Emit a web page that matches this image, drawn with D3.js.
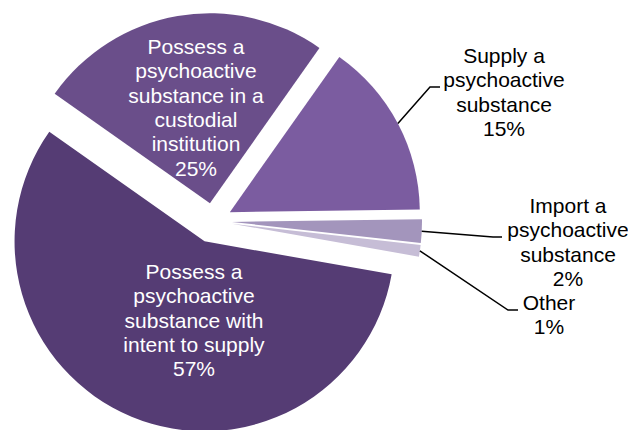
<!DOCTYPE html>
<html>
<head>
<meta charset="utf-8">
<script src="https://cdn.jsdelivr.net/npm/d3@7"></script>
<style>
  html, body { margin: 0; padding: 0; background: #ffffff; }
  svg { display: block; }
  text { font-family: "Liberation Sans", Arial, sans-serif; }
</style>
</head>
<body>
<svg id="chart" width="628" height="430"></svg>
<script>
// ---- data ----
const categories = [
  "Possess a psychoactive substance with intent to supply",
  "Possess a psychoactive substance in a custodial institution",
  "Supply a psychoactive substance",
  "Import a psychoactive substance",
  "Other"
];
const values = [57, 25, 15, 2, 1];
const labelLines = [
  ["Possess a", "psychoactive", "substance with", "intent to supply", "57%"],
  ["Possess a", "psychoactive", "substance in a", "custodial", "institution", "25%"],
  ["Supply a", "psychoactive", "substance", "15%"],
  ["Import a", "psychoactive", "substance", "2%"],
  ["Other", "1%"]
];

// ---- style / layout ----
const colors = ["#553c74", "#6a4e8a", "#7b5ca0", "#a395bc", "#c6bdd6"];
const explodes = [22, 18, 19, 19, 19];
const W = 628, H = 430;
const cx = 213, cy = 221, R = 190;
const fontSize = 21, lineH = 24.3;
const startDeg = 100;
// label placement: x = center of text, y = baseline of first line, inside flag
const labelLayout = [
  { x: 194, y: 279, inside: true },
  { x: 196, y: 54, inside: true },
  { x: 504, y: 63, inside: false, elbow: [430, 87], end: [440, 87] },
  { x: 568, y: 213, inside: false, elbow: [493, 237], end: [502, 237] },
  { x: 549, y: 310, inside: false, elbow: [508, 310], end: [518, 310] }
];

const svg = d3.select("#chart");
const data = categories.map((c, i) => ({ name: c, value: values[i], i }));

const pie = d3.pie().sort(null).value(d => d.value)
  .startAngle(startDeg * Math.PI / 180)
  .endAngle(startDeg * Math.PI / 180 + 2 * Math.PI);
const arcs = pie(data);
const arc = d3.arc().innerRadius(0).outerRadius(R);

function offset(a) {
  const mid = (a.startAngle + a.endAngle) / 2;
  const e = explodes[a.data.i];
  return [Math.sin(mid) * e, -Math.cos(mid) * e];
}

const g = svg.append("g").attr("transform", `translate(${cx},${cy})`);
g.selectAll("path.slice").data(arcs).enter().append("path")
  .attr("class", "slice")
  .attr("transform", d => { const o = offset(d); return `translate(${o[0]},${o[1]})`; })
  .attr("d", arc)
  .attr("fill", d => colors[d.data.i]);

// leader lines
arcs.forEach(a => {
  const L = labelLayout[a.data.i];
  if (L.inside) return;
  const o = offset(a);
  const mid = (a.startAngle + a.endAngle) / 2;
  const sx = cx + o[0] + Math.sin(mid) * R;
  const sy = cy + o[1] - Math.cos(mid) * R;
  svg.append("polyline")
    .attr("points", [[sx, sy], L.elbow, L.end].map(p => p.join(",")).join(" "))
    .attr("fill", "none")
    .attr("stroke", "#000")
    .attr("stroke-width", 1.5);
});

// labels
arcs.forEach(a => {
  const L = labelLayout[a.data.i];
  const t = svg.append("text")
    .attr("text-anchor", "middle")
    .attr("font-size", fontSize)
    .attr("fill", L.inside ? "#ffffff" : "#000000");
  labelLines[a.data.i].forEach((ln, k) => {
    t.append("tspan").attr("x", L.x).attr("y", L.y + k * lineH).text(ln);
  });
});
</script>
</body>
</html>
